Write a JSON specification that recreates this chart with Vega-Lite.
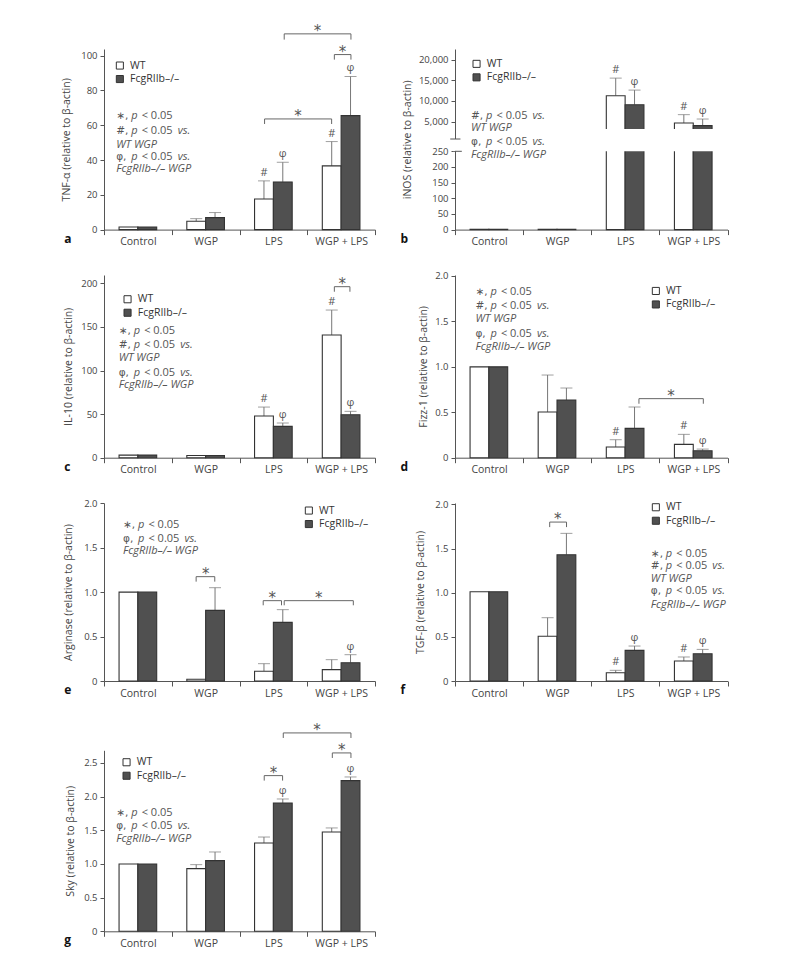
{
"$schema": "https://vega.github.io/schema/vega-lite/v6.json",
"background": "white",
"padding": {"left": 61, "top": 23, "right": 10, "bottom": 10},
"config": {
 "view": {"stroke": null},
 "font": "Open Sans",
 "axis": {"grid": false, "domainColor": "#555555", "tickColor": "#555555", "labelColor": "#444444", "titleColor": "#444444", "labelFont": "Open Sans", "titleFont": "Open Sans", "titleFontWeight": "normal"},
 "axisX": {"tickSize": 5, "tickBand": "extent", "labelFontSize": 10.5, "labelPadding": 2, "labelAngle": 0},
 "axisY": {"tickSize": 4, "labelPadding": 3, "labelFontSize": 9.5, "titleFontSize": 10.5, "labelOverlap": false},
 "legend": {"orient": "none", "symbolType": "square", "symbolSize": 50, "symbolStrokeColor": "#333333", "symbolStrokeWidth": 1, "labelFont": "Open Sans", "labelFontSize": 10.5, "labelColor": "#333333", "labelOffset": 5, "rowPadding": 1.5, "padding": 0}
},
"datasets": {
 "bars": [
  {"panel":"a","group":"Control","geno":"WT","value":1.5,"upper":null,"sig":""},
  {"panel":"a","group":"Control","geno":"FcgRIIb–/–","value":1.5,"upper":null,"sig":""},
  {"panel":"a","group":"WGP","geno":"WT","value":4.8,"upper":6.3,"sig":""},
  {"panel":"a","group":"WGP","geno":"FcgRIIb–/–","value":6.9,"upper":9.8,"sig":""},
  {"panel":"a","group":"LPS","geno":"WT","value":17.6,"upper":28.0,"sig":"#"},
  {"panel":"a","group":"LPS","geno":"FcgRIIb–/–","value":27.4,"upper":38.7,"sig":"φ"},
  {"panel":"a","group":"WGP + LPS","geno":"WT","value":36.6,"upper":50.6,"sig":"#"},
  {"panel":"a","group":"WGP + LPS","geno":"FcgRIIb–/–","value":65.5,"upper":88.0,"sig":"φ"},
  {"panel":"b","group":"Control","geno":"WT","value":1,"upper":null,"sig":""},
  {"panel":"b","group":"Control","geno":"FcgRIIb–/–","value":1,"upper":null,"sig":""},
  {"panel":"b","group":"WGP","geno":"WT","value":1,"upper":null,"sig":""},
  {"panel":"b","group":"WGP","geno":"FcgRIIb–/–","value":1,"upper":null,"sig":""},
  {"panel":"b","group":"LPS","geno":"WT","value":11280,"upper":15530,"sig":"#"},
  {"panel":"b","group":"LPS","geno":"FcgRIIb–/–","value":9100,"upper":12630,"sig":"φ"},
  {"panel":"b","group":"WGP + LPS","geno":"WT","value":4660,"upper":6690,"sig":"#"},
  {"panel":"b","group":"WGP + LPS","geno":"FcgRIIb–/–","value":4030,"upper":5630,"sig":"φ"},
  {"panel":"c","group":"Control","geno":"WT","value":3,"upper":null,"sig":""},
  {"panel":"c","group":"Control","geno":"FcgRIIb–/–","value":3,"upper":null,"sig":""},
  {"panel":"c","group":"WGP","geno":"WT","value":2.5,"upper":null,"sig":""},
  {"panel":"c","group":"WGP","geno":"FcgRIIb–/–","value":2.5,"upper":null,"sig":""},
  {"panel":"c","group":"LPS","geno":"WT","value":47.8,"upper":58.1,"sig":"#"},
  {"panel":"c","group":"LPS","geno":"FcgRIIb–/–","value":35.9,"upper":39.8,"sig":"φ"},
  {"panel":"c","group":"WGP + LPS","geno":"WT","value":140.7,"upper":169.4,"sig":"#"},
  {"panel":"c","group":"WGP + LPS","geno":"FcgRIIb–/–","value":49.3,"upper":53.2,"sig":"φ"},
  {"panel":"d","group":"Control","geno":"WT","value":1.0,"upper":null,"sig":""},
  {"panel":"d","group":"Control","geno":"FcgRIIb–/–","value":1.0,"upper":null,"sig":""},
  {"panel":"d","group":"WGP","geno":"WT","value":0.503,"upper":0.91,"sig":""},
  {"panel":"d","group":"WGP","geno":"FcgRIIb–/–","value":0.635,"upper":0.767,"sig":""},
  {"panel":"d","group":"LPS","geno":"WT","value":0.117,"upper":0.198,"sig":"#"},
  {"panel":"d","group":"LPS","geno":"FcgRIIb–/–","value":0.323,"upper":0.558,"sig":""},
  {"panel":"d","group":"WGP + LPS","geno":"WT","value":0.147,"upper":0.257,"sig":"#"},
  {"panel":"d","group":"WGP + LPS","geno":"FcgRIIb–/–","value":0.077,"upper":0.095,"sig":"φ"},
  {"panel":"e","group":"Control","geno":"WT","value":1.0,"upper":null,"sig":""},
  {"panel":"e","group":"Control","geno":"FcgRIIb–/–","value":1.0,"upper":null,"sig":""},
  {"panel":"e","group":"WGP","geno":"WT","value":0.019,"upper":null,"sig":""},
  {"panel":"e","group":"WGP","geno":"FcgRIIb–/–","value":0.795,"upper":1.05,"sig":""},
  {"panel":"e","group":"LPS","geno":"WT","value":0.109,"upper":0.195,"sig":""},
  {"panel":"e","group":"LPS","geno":"FcgRIIb–/–","value":0.66,"upper":0.803,"sig":""},
  {"panel":"e","group":"WGP + LPS","geno":"WT","value":0.128,"upper":0.24,"sig":""},
  {"panel":"e","group":"WGP + LPS","geno":"FcgRIIb–/–","value":0.206,"upper":0.296,"sig":"φ"},
  {"panel":"f","group":"Control","geno":"WT","value":1.01,"upper":null,"sig":""},
  {"panel":"f","group":"Control","geno":"FcgRIIb–/–","value":1.01,"upper":null,"sig":""},
  {"panel":"f","group":"WGP","geno":"WT","value":0.506,"upper":0.717,"sig":""},
  {"panel":"f","group":"WGP","geno":"FcgRIIb–/–","value":1.43,"upper":1.672,"sig":""},
  {"panel":"f","group":"LPS","geno":"WT","value":0.094,"upper":0.121,"sig":"#"},
  {"panel":"f","group":"LPS","geno":"FcgRIIb–/–","value":0.347,"upper":0.396,"sig":"φ"},
  {"panel":"f","group":"WGP + LPS","geno":"WT","value":0.226,"upper":0.272,"sig":"#"},
  {"panel":"f","group":"WGP + LPS","geno":"FcgRIIb–/–","value":0.309,"upper":0.358,"sig":"φ"},
  {"panel":"g","group":"Control","geno":"WT","value":1.0,"upper":null,"sig":""},
  {"panel":"g","group":"Control","geno":"FcgRIIb–/–","value":1.0,"upper":null,"sig":""},
  {"panel":"g","group":"WGP","geno":"WT","value":0.931,"upper":0.99,"sig":""},
  {"panel":"g","group":"WGP","geno":"FcgRIIb–/–","value":1.05,"upper":1.178,"sig":""},
  {"panel":"g","group":"LPS","geno":"WT","value":1.312,"upper":1.40,"sig":""},
  {"panel":"g","group":"LPS","geno":"FcgRIIb–/–","value":1.906,"upper":1.965,"sig":"φ"},
  {"panel":"g","group":"WGP + LPS","geno":"WT","value":1.475,"upper":1.535,"sig":""},
  {"panel":"g","group":"WGP + LPS","geno":"FcgRIIb–/–","value":2.238,"upper":2.292,"sig":"φ"}
 ],
 "brackets": [
  {"panel":"a","x1":2.37,"x2":3.36,"xm":2.865,"y":63.6,"y0":60.7},
  {"panel":"a","x1":2.66,"x2":3.645,"xm":3.15,"y":112.5,"y0":109.2},
  {"panel":"a","x1":3.40,"x2":3.645,"xm":3.52,"y":100.6,"y0":97.7},
  {"panel":"c","x1":3.40,"x2":3.63,"xm":3.515,"y":196.2,"y0":190.4},
  {"panel":"d","x1":2.70,"x2":3.645,"xm":3.17,"y":0.65,"y0":0.594},
  {"panel":"e","x1":1.36,"x2":1.635,"xm":1.5,"y":1.174,"y0":1.118},
  {"panel":"e","x1":2.35,"x2":2.62,"xm":2.485,"y":0.904,"y0":0.852},
  {"panel":"e","x1":2.66,"x2":3.68,"xm":3.17,"y":0.904,"y0":0.852},
  {"panel":"f","x1":1.39,"x2":1.637,"xm":1.51,"y":1.80,"y0":1.743},
  {"panel":"g","x1":2.365,"x2":2.636,"xm":2.5,"y":2.312,"y0":2.238},
  {"panel":"g","x1":3.37,"x2":3.645,"xm":3.51,"y":2.649,"y0":2.574},
  {"panel":"g","x1":2.646,"x2":3.645,"xm":3.145,"y":2.946,"y0":2.871}
 ],
 "notes": [
  {"panel":"a","x":0.18,"y":65.1,"pre":"∗,"},
  {"panel":"a","x":0.18,"y":56.5,"pre":"#,","vs":true},
  {"panel":"a","x":0.18,"y":48.6,"full":"WT WGP"},
  {"panel":"a","x":0.18,"y":41.7,"pre":"φ,","vs":true},
  {"panel":"a","x":0.18,"y":34.7,"full":"FcgRIIb–/– WGP"},
  {"panel":"b","x":0.235,"y":6291,"pre":"#,","vs":true},
  {"panel":"b","x":0.235,"y":3460,"full":"WT WGP"},
  {"panel":"b","x":0.235,"y":651,"pre":"φ,","vs":true},
  {"panel":"b","x":0.235,"y":239.5,"full":"FcgRIIb–/– WGP"},
  {"panel":"c","x":0.216,"y":145.4,"pre":"∗,"},
  {"panel":"c","x":0.216,"y":129.3,"pre":"#,","vs":true},
  {"panel":"c","x":0.216,"y":114.7,"full":"WT WGP"},
  {"panel":"c","x":0.216,"y":97.5,"pre":"φ,","vs":true},
  {"panel":"c","x":0.216,"y":83.4,"full":"FcgRIIb–/– WGP"},
  {"panel":"d","x":0.30,"y":1.827,"pre":"∗,"},
  {"panel":"d","x":0.30,"y":1.670,"pre":"#,","vs":true},
  {"panel":"d","x":0.30,"y":1.522,"full":"WT WGP"},
  {"panel":"d","x":0.30,"y":1.365,"pre":"φ,","vs":true},
  {"panel":"d","x":0.30,"y":1.222,"full":"FcgRIIb–/– WGP"},
  {"panel":"e","x":0.28,"y":1.759,"pre":"∗,"},
  {"panel":"e","x":0.28,"y":1.602,"pre":"φ,","vs":true},
  {"panel":"e","x":0.28,"y":1.460,"full":"FcgRIIb–/– WGP"},
  {"panel":"f","x":2.875,"y":1.438,"pre":"∗,"},
  {"panel":"f","x":2.875,"y":1.299,"pre":"#,","vs":true},
  {"panel":"f","x":2.875,"y":1.159,"full":"WT WGP"},
  {"panel":"f","x":2.875,"y":1.016,"pre":"φ,","vs":true},
  {"panel":"f","x":2.875,"y":0.864,"full":"FcgRIIb–/– WGP"},
  {"panel":"g","x":0.18,"y":1.757,"pre":"∗,"},
  {"panel":"g","x":0.18,"y":1.568,"pre":"φ,","vs":true},
  {"panel":"g","x":0.18,"y":1.375,"full":"FcgRIIb–/– WGP"}
 ],
 "letters": [{"panel":"a"},{"panel":"b"},{"panel":"c"},{"panel":"d"},{"panel":"e"},{"panel":"f"},{"panel":"g"}],
 "breaks": [{"panel":"b","lo":250,"hi":3218,"alo":256,"ahi":798}]
},
"columns": 2,
"spacing": {"row": 45, "column": 80},
"bounds": "flush",
"resolve": {"scale": {"fill": "independent"}, "legend": {"fill": "independent"}},
"concat": [
 {
  "width": 271, "height": 180.6,
  "resolve": {"scale": {"x": "independent"}},
  "layer": [
   {
    "data": {"name": "bars"},
    "transform": [{"filter": "datum.panel == 'a'"}],
    "encoding": {
     "x": {"field": "group", "type": "nominal", "title": null, "scale": {"domain": ["Control", "WGP", "LPS", "WGP + LPS"], "paddingInner": 0, "paddingOuter": 0}},
     "xOffset": {"field": "geno", "type": "nominal", "scale": {"domain": ["WT", "FcgRIIb–/–"], "paddingInner": 0, "paddingOuter": 0.8}},
     "y": {"field": "value", "type": "quantitative", "title": "TNF-α (relative to β-actin)", "scale": {"domain": [0, 103.8], "nice": false}, "axis": {"values": [0, 20, 40, 60, 80, 100], "tickCount": 30, "labelOverlap": false, "minExtent": 22, "maxExtent": 22, "titlePadding": 11}}
    },
    "layer": [
     {"transform": [{"filter": "isValid(datum.upper)"}], "mark": {"type": "rule", "color": "#777777"}, "encoding": {"y2": {"field": "upper"}}},
     {"mark": {"type": "bar", "stroke": "#333333", "strokeWidth": 1.1}, "encoding": {"fill": {"field": "geno", "type": "nominal", "title": null, "scale": {"domain": ["WT", "FcgRIIb–/–"], "range": ["#ffffff", "#505050"]}, "legend": {"legendX": 10.6, "legendY": 11.3}}}},
     {"transform": [{"filter": "isValid(datum.upper)"}], "mark": {"type": "tick", "orient": "horizontal", "color": "#777777", "size": 12, "thickness": 1}, "encoding": {"y": {"field": "upper", "type": "quantitative"}}},
     {"transform": [{"filter": "isValid(datum.upper)"}], "mark": {"type": "text", "baseline": "middle", "dy": -8, "font": "Open Sans", "fontSize": 11, "color": "#555555"}, "encoding": {"y": {"field": "upper", "type": "quantitative"}, "text": {"field": "sig"}}}
    ]
   },
   {
    "layer": [
     {"data": {"name": "brackets"}, "transform": [{"filter": "datum.panel == 'a'"}], "mark": {"type": "rule", "color": "#666666"}, "encoding": {"x": {"field": "x1", "type": "quantitative", "scale": {"domain": [0, 4], "nice": false, "zero": false}, "axis": null}, "x2": {"field": "x2"}, "y": {"field": "y", "type": "quantitative"}}},
     {"data": {"name": "brackets"}, "transform": [{"filter": "datum.panel == 'a'"}], "mark": {"type": "rule", "color": "#666666"}, "encoding": {"x": {"field": "x1", "type": "quantitative", "scale": {"domain": [0, 4], "nice": false, "zero": false}, "axis": null}, "y": {"field": "y", "type": "quantitative"}, "y2": {"field": "y0"}}},
     {"data": {"name": "brackets"}, "transform": [{"filter": "datum.panel == 'a'"}], "mark": {"type": "rule", "color": "#666666"}, "encoding": {"x": {"field": "x2", "type": "quantitative", "scale": {"domain": [0, 4], "nice": false, "zero": false}, "axis": null}, "y": {"field": "y", "type": "quantitative"}, "y2": {"field": "y0"}}},
     {"data": {"name": "brackets"}, "transform": [{"filter": "datum.panel == 'a'"}], "mark": {"type": "text", "baseline": "middle", "dy": -3, "font": "DejaVu Sans", "fontSize": 15, "color": "#555555"}, "encoding": {"x": {"field": "xm", "type": "quantitative", "scale": {"domain": [0, 4], "nice": false, "zero": false}, "axis": null}, "y": {"field": "y", "type": "quantitative"}, "text": {"value": "*"}}},
     {"data": {"name": "notes"}, "transform": [{"filter": "datum.panel == 'a' && isValid(datum.pre)"}], "mark": {"type": "text", "align": "left", "baseline": "middle", "font": "DejaVu Sans", "fontSize": 10.5, "color": "#555555"}, "encoding": {"x": {"field": "x", "type": "quantitative", "scale": {"domain": [0, 4], "nice": false, "zero": false}, "axis": null}, "y": {"field": "y", "type": "quantitative"}, "text": {"field": "pre"}}},
     {"data": {"name": "notes"}, "transform": [{"filter": "datum.panel == 'a' && isValid(datum.pre)"}], "mark": {"type": "text", "align": "left", "baseline": "middle", "fontSize": 11, "fontStyle": "italic", "dx": 15, "color": "#555555"}, "encoding": {"x": {"field": "x", "type": "quantitative", "scale": {"domain": [0, 4], "nice": false, "zero": false}, "axis": null}, "y": {"field": "y", "type": "quantitative"}, "text": {"value": "p"}}},
     {"data": {"name": "notes"}, "transform": [{"filter": "datum.panel == 'a' && isValid(datum.pre)"}], "mark": {"type": "text", "align": "left", "baseline": "middle", "fontSize": 11, "dx": 25.5, "color": "#555555"}, "encoding": {"x": {"field": "x", "type": "quantitative", "scale": {"domain": [0, 4], "nice": false, "zero": false}, "axis": null}, "y": {"field": "y", "type": "quantitative"}, "text": {"value": "< 0.05"}}},
     {"data": {"name": "notes"}, "transform": [{"filter": "datum.panel == 'a' && datum.vs"}], "mark": {"type": "text", "align": "left", "baseline": "middle", "fontSize": 11, "fontStyle": "italic", "dx": 61.5, "color": "#555555"}, "encoding": {"x": {"field": "x", "type": "quantitative", "scale": {"domain": [0, 4], "nice": false, "zero": false}, "axis": null}, "y": {"field": "y", "type": "quantitative"}, "text": {"value": "vs."}}},
     {"data": {"name": "notes"}, "transform": [{"filter": "datum.panel == 'a' && isValid(datum.full)"}], "mark": {"type": "text", "align": "left", "baseline": "middle", "fontSize": 11, "fontStyle": "italic", "color": "#555555"}, "encoding": {"x": {"field": "x", "type": "quantitative", "scale": {"domain": [0, 4], "nice": false, "zero": false}, "axis": null}, "y": {"field": "y", "type": "quantitative"}, "text": {"field": "full"}}},
     {"data": {"name": "letters"}, "transform": [{"filter": "datum.panel == 'a'"}], "mark": {"type": "text", "align": "left", "baseline": "alphabetic", "dy": 13, "fontSize": 12, "fontWeight": "bold", "color": "#111111"}, "encoding": {"x": {"datum": -0.587, "type": "quantitative", "scale": {"domain": [0, 4], "nice": false, "zero": false}, "axis": null}, "y": {"datum": 0, "type": "quantitative"}, "text": {"field": "panel"}}}
    ]
   }
  ]
 },
 {
  "width": 272.5, "height": 180.6,
  "resolve": {"scale": {"x": "independent"}},
  "layer": [
   {
    "data": {"name": "bars"},
    "transform": [{"filter": "datum.panel == 'b'"}],
    "encoding": {
     "x": {"field": "group", "type": "nominal", "title": null, "scale": {"domain": ["Control", "WGP", "LPS", "WGP + LPS"], "paddingInner": 0, "paddingOuter": 0}},
     "xOffset": {"field": "geno", "type": "nominal", "scale": {"domain": ["WT", "FcgRIIb–/–"], "paddingInner": 0, "paddingOuter": 0.8}},
     "y": {"field": "value", "type": "quantitative", "title": "iNOS (relative to β-actin)", "scale": {"domain": [0, 250, 798, 22574], "range": [180.6, 102.3, 90, 0], "nice": false, "zero": false}, "axis": {"values": [0, 50, 100, 150, 200, 250, 5000, 10000, 15000, 20000], "tickCount": 30, "format": ",.0f", "labelOverlap": false, "minExtent": 22, "maxExtent": 22, "titlePadding": 21}}
    },
    "layer": [
     {"transform": [{"filter": "isValid(datum.upper)"}], "mark": {"type": "rule", "color": "#777777"}, "encoding": {"y2": {"field": "upper"}}},
     {"mark": {"type": "bar", "stroke": "#333333", "strokeWidth": 1.1}, "encoding": {"fill": {"field": "geno", "type": "nominal", "title": null, "scale": {"domain": ["WT", "FcgRIIb–/–"], "range": ["#ffffff", "#505050"]}, "legend": {"legendX": 16.3, "legendY": 9.6}}}},
     {"transform": [{"filter": "isValid(datum.upper)"}], "mark": {"type": "tick", "orient": "horizontal", "color": "#777777", "size": 12, "thickness": 1}, "encoding": {"y": {"field": "upper", "type": "quantitative"}}},
     {"transform": [{"filter": "isValid(datum.upper)"}], "mark": {"type": "text", "baseline": "middle", "dy": -8, "font": "Open Sans", "fontSize": 11, "color": "#555555"}, "encoding": {"y": {"field": "upper", "type": "quantitative"}, "text": {"field": "sig"}}}
    ]
   },
   {
    "layer": [
     {"data": {"name": "breaks"}, "transform": [{"filter": "datum.panel == 'b'"}], "mark": {"type": "rect", "fill": "white"}, "encoding": {"x": {"datum": 0.04, "type": "quantitative", "scale": {"domain": [0, 4], "nice": false, "zero": false}, "axis": null}, "x2": {"datum": 4}, "y": {"field": "lo", "type": "quantitative"}, "y2": {"field": "hi"}}},
     {"data": {"name": "breaks"}, "transform": [{"filter": "datum.panel == 'b'"}], "mark": {"type": "rect", "fill": "white"}, "encoding": {"x": {"datum": -0.03, "type": "quantitative", "scale": {"domain": [0, 4], "nice": false, "zero": false}, "axis": null}, "x2": {"datum": 0.03}, "y": {"field": "alo", "type": "quantitative"}, "y2": {"field": "ahi"}}},
     {"data": {"name": "breaks"}, "transform": [{"filter": "datum.panel == 'b'"}], "mark": {"type": "rule", "color": "#555555"}, "encoding": {"x": {"datum": -0.07, "type": "quantitative", "scale": {"domain": [0, 4], "nice": false, "zero": false}, "axis": null}, "x2": {"datum": 0.08}, "y": {"field": "ahi", "type": "quantitative"}}},
     {"data": {"name": "breaks"}, "transform": [{"filter": "datum.panel == 'b'"}], "mark": {"type": "rule", "color": "#555555"}, "encoding": {"x": {"datum": 0, "type": "quantitative", "scale": {"domain": [0, 4], "nice": false, "zero": false}, "axis": null}, "x2": {"datum": 0.1}, "y": {"field": "lo", "type": "quantitative"}}},
     {"data": {"name": "notes"}, "transform": [{"filter": "datum.panel == 'b' && isValid(datum.pre)"}], "mark": {"type": "text", "align": "left", "baseline": "middle", "font": "DejaVu Sans", "fontSize": 10.5, "color": "#555555"}, "encoding": {"x": {"field": "x", "type": "quantitative", "scale": {"domain": [0, 4], "nice": false, "zero": false}, "axis": null}, "y": {"field": "y", "type": "quantitative"}, "text": {"field": "pre"}}},
     {"data": {"name": "notes"}, "transform": [{"filter": "datum.panel == 'b' && isValid(datum.pre)"}], "mark": {"type": "text", "align": "left", "baseline": "middle", "fontSize": 11, "fontStyle": "italic", "dx": 15, "color": "#555555"}, "encoding": {"x": {"field": "x", "type": "quantitative", "scale": {"domain": [0, 4], "nice": false, "zero": false}, "axis": null}, "y": {"field": "y", "type": "quantitative"}, "text": {"value": "p"}}},
     {"data": {"name": "notes"}, "transform": [{"filter": "datum.panel == 'b' && isValid(datum.pre)"}], "mark": {"type": "text", "align": "left", "baseline": "middle", "fontSize": 11, "dx": 25.5, "color": "#555555"}, "encoding": {"x": {"field": "x", "type": "quantitative", "scale": {"domain": [0, 4], "nice": false, "zero": false}, "axis": null}, "y": {"field": "y", "type": "quantitative"}, "text": {"value": "< 0.05"}}},
     {"data": {"name": "notes"}, "transform": [{"filter": "datum.panel == 'b' && datum.vs"}], "mark": {"type": "text", "align": "left", "baseline": "middle", "fontSize": 11, "fontStyle": "italic", "dx": 61.5, "color": "#555555"}, "encoding": {"x": {"field": "x", "type": "quantitative", "scale": {"domain": [0, 4], "nice": false, "zero": false}, "axis": null}, "y": {"field": "y", "type": "quantitative"}, "text": {"value": "vs."}}},
     {"data": {"name": "notes"}, "transform": [{"filter": "datum.panel == 'b' && isValid(datum.full)"}], "mark": {"type": "text", "align": "left", "baseline": "middle", "fontSize": 11, "fontStyle": "italic", "color": "#555555"}, "encoding": {"x": {"field": "x", "type": "quantitative", "scale": {"domain": [0, 4], "nice": false, "zero": false}, "axis": null}, "y": {"field": "y", "type": "quantitative"}, "text": {"field": "full"}}},
     {"data": {"name": "letters"}, "transform": [{"filter": "datum.panel == 'b'"}], "mark": {"type": "text", "align": "left", "baseline": "alphabetic", "dy": 13, "fontSize": 12, "fontWeight": "bold", "color": "#111111"}, "encoding": {"x": {"datum": -0.8, "type": "quantitative", "scale": {"domain": [0, 4], "nice": false, "zero": false}, "axis": null}, "y": {"datum": 0, "type": "quantitative"}, "text": {"field": "panel"}}}
    ]
   }
  ]
 },
 {
  "width": 271, "height": 182.7,
  "resolve": {"scale": {"x": "independent"}},
  "layer": [
   {
    "data": {"name": "bars"},
    "transform": [{"filter": "datum.panel == 'c'"}],
    "encoding": {
     "x": {"field": "group", "type": "nominal", "title": null, "scale": {"domain": ["Control", "WGP", "LPS", "WGP + LPS"], "paddingInner": 0, "paddingOuter": 0}},
     "xOffset": {"field": "geno", "type": "nominal", "scale": {"domain": ["WT", "FcgRIIb–/–"], "paddingInner": 0, "paddingOuter": 0.8}},
     "y": {"field": "value", "type": "quantitative", "title": "IL-10 (relative to β-actin)", "scale": {"domain": [0, 209.6], "nice": false}, "axis": {"values": [0, 50, 100, 150, 200], "tickCount": 30, "labelOverlap": false, "minExtent": 22, "maxExtent": 22, "titlePadding": 9}}
    },
    "layer": [
     {"transform": [{"filter": "isValid(datum.upper)"}], "mark": {"type": "rule", "color": "#777777"}, "encoding": {"y2": {"field": "upper"}}},
     {"mark": {"type": "bar", "stroke": "#333333", "strokeWidth": 1.1}, "encoding": {"fill": {"field": "geno", "type": "nominal", "title": null, "scale": {"domain": ["WT", "FcgRIIb–/–"], "range": ["#ffffff", "#505050"]}, "legend": {"legendX": 18.3, "legendY": 19}}}},
     {"transform": [{"filter": "isValid(datum.upper)"}], "mark": {"type": "tick", "orient": "horizontal", "color": "#777777", "size": 12, "thickness": 1}, "encoding": {"y": {"field": "upper", "type": "quantitative"}}},
     {"transform": [{"filter": "isValid(datum.upper)"}], "mark": {"type": "text", "baseline": "middle", "dy": -8, "font": "Open Sans", "fontSize": 11, "color": "#555555"}, "encoding": {"y": {"field": "upper", "type": "quantitative"}, "text": {"field": "sig"}}}
    ]
   },
   {
    "layer": [
     {"data": {"name": "brackets"}, "transform": [{"filter": "datum.panel == 'c'"}], "mark": {"type": "rule", "color": "#666666"}, "encoding": {"x": {"field": "x1", "type": "quantitative", "scale": {"domain": [0, 4], "nice": false, "zero": false}, "axis": null}, "x2": {"field": "x2"}, "y": {"field": "y", "type": "quantitative"}}},
     {"data": {"name": "brackets"}, "transform": [{"filter": "datum.panel == 'c'"}], "mark": {"type": "rule", "color": "#666666"}, "encoding": {"x": {"field": "x1", "type": "quantitative", "scale": {"domain": [0, 4], "nice": false, "zero": false}, "axis": null}, "y": {"field": "y", "type": "quantitative"}, "y2": {"field": "y0"}}},
     {"data": {"name": "brackets"}, "transform": [{"filter": "datum.panel == 'c'"}], "mark": {"type": "rule", "color": "#666666"}, "encoding": {"x": {"field": "x2", "type": "quantitative", "scale": {"domain": [0, 4], "nice": false, "zero": false}, "axis": null}, "y": {"field": "y", "type": "quantitative"}, "y2": {"field": "y0"}}},
     {"data": {"name": "brackets"}, "transform": [{"filter": "datum.panel == 'c'"}], "mark": {"type": "text", "baseline": "middle", "dy": -3, "font": "DejaVu Sans", "fontSize": 15, "color": "#555555"}, "encoding": {"x": {"field": "xm", "type": "quantitative", "scale": {"domain": [0, 4], "nice": false, "zero": false}, "axis": null}, "y": {"field": "y", "type": "quantitative"}, "text": {"value": "*"}}},
     {"data": {"name": "notes"}, "transform": [{"filter": "datum.panel == 'c' && isValid(datum.pre)"}], "mark": {"type": "text", "align": "left", "baseline": "middle", "font": "DejaVu Sans", "fontSize": 10.5, "color": "#555555"}, "encoding": {"x": {"field": "x", "type": "quantitative", "scale": {"domain": [0, 4], "nice": false, "zero": false}, "axis": null}, "y": {"field": "y", "type": "quantitative"}, "text": {"field": "pre"}}},
     {"data": {"name": "notes"}, "transform": [{"filter": "datum.panel == 'c' && isValid(datum.pre)"}], "mark": {"type": "text", "align": "left", "baseline": "middle", "fontSize": 11, "fontStyle": "italic", "dx": 15, "color": "#555555"}, "encoding": {"x": {"field": "x", "type": "quantitative", "scale": {"domain": [0, 4], "nice": false, "zero": false}, "axis": null}, "y": {"field": "y", "type": "quantitative"}, "text": {"value": "p"}}},
     {"data": {"name": "notes"}, "transform": [{"filter": "datum.panel == 'c' && isValid(datum.pre)"}], "mark": {"type": "text", "align": "left", "baseline": "middle", "fontSize": 11, "dx": 25.5, "color": "#555555"}, "encoding": {"x": {"field": "x", "type": "quantitative", "scale": {"domain": [0, 4], "nice": false, "zero": false}, "axis": null}, "y": {"field": "y", "type": "quantitative"}, "text": {"value": "< 0.05"}}},
     {"data": {"name": "notes"}, "transform": [{"filter": "datum.panel == 'c' && datum.vs"}], "mark": {"type": "text", "align": "left", "baseline": "middle", "fontSize": 11, "fontStyle": "italic", "dx": 61.5, "color": "#555555"}, "encoding": {"x": {"field": "x", "type": "quantitative", "scale": {"domain": [0, 4], "nice": false, "zero": false}, "axis": null}, "y": {"field": "y", "type": "quantitative"}, "text": {"value": "vs."}}},
     {"data": {"name": "notes"}, "transform": [{"filter": "datum.panel == 'c' && isValid(datum.full)"}], "mark": {"type": "text", "align": "left", "baseline": "middle", "fontSize": 11, "fontStyle": "italic", "color": "#555555"}, "encoding": {"x": {"field": "x", "type": "quantitative", "scale": {"domain": [0, 4], "nice": false, "zero": false}, "axis": null}, "y": {"field": "y", "type": "quantitative"}, "text": {"field": "full"}}},
     {"data": {"name": "letters"}, "transform": [{"filter": "datum.panel == 'c'"}], "mark": {"type": "text", "align": "left", "baseline": "alphabetic", "dy": 13, "fontSize": 12, "fontWeight": "bold", "color": "#111111"}, "encoding": {"x": {"datum": -0.587, "type": "quantitative", "scale": {"domain": [0, 4], "nice": false, "zero": false}, "axis": null}, "y": {"datum": 0, "type": "quantitative"}, "text": {"field": "panel"}}}
    ]
   }
  ]
 },
 {
  "width": 272.5, "height": 182.7,
  "resolve": {"scale": {"x": "independent"}},
  "layer": [
   {
    "data": {"name": "bars"},
    "transform": [{"filter": "datum.panel == 'd'"}],
    "encoding": {
     "x": {"field": "group", "type": "nominal", "title": null, "scale": {"domain": ["Control", "WGP", "LPS", "WGP + LPS"], "paddingInner": 0, "paddingOuter": 0}},
     "xOffset": {"field": "geno", "type": "nominal", "scale": {"domain": ["WT", "FcgRIIb–/–"], "paddingInner": 0, "paddingOuter": 0.8}},
     "y": {"field": "value", "type": "quantitative", "title": "Fizz-1 (relative to β-actin)", "scale": {"domain": [0, 2.011], "nice": false}, "axis": {"values": [0, 0.5, 1, 1.5, 2], "tickCount": 30, "labelOverlap": false, "labelExpr": "datum.value == 0 ? '0' : format(datum.value, '.1f')", "minExtent": 22, "maxExtent": 22, "titlePadding": 5}}
    },
    "layer": [
     {"transform": [{"filter": "isValid(datum.upper)"}], "mark": {"type": "rule", "color": "#777777"}, "encoding": {"y2": {"field": "upper"}}},
     {"mark": {"type": "bar", "stroke": "#333333", "strokeWidth": 1.1}, "encoding": {"fill": {"field": "geno", "type": "nominal", "title": null, "scale": {"domain": ["WT", "FcgRIIb–/–"], "range": ["#ffffff", "#505050"]}, "legend": {"legendX": 195.6, "legendY": 10.7}}}},
     {"transform": [{"filter": "isValid(datum.upper)"}], "mark": {"type": "tick", "orient": "horizontal", "color": "#777777", "size": 12, "thickness": 1}, "encoding": {"y": {"field": "upper", "type": "quantitative"}}},
     {"transform": [{"filter": "isValid(datum.upper)"}], "mark": {"type": "text", "baseline": "middle", "dy": -8, "font": "Open Sans", "fontSize": 11, "color": "#555555"}, "encoding": {"y": {"field": "upper", "type": "quantitative"}, "text": {"field": "sig"}}}
    ]
   },
   {
    "layer": [
     {"data": {"name": "brackets"}, "transform": [{"filter": "datum.panel == 'd'"}], "mark": {"type": "rule", "color": "#666666"}, "encoding": {"x": {"field": "x1", "type": "quantitative", "scale": {"domain": [0, 4], "nice": false, "zero": false}, "axis": null}, "x2": {"field": "x2"}, "y": {"field": "y", "type": "quantitative"}}},
     {"data": {"name": "brackets"}, "transform": [{"filter": "datum.panel == 'd'"}], "mark": {"type": "rule", "color": "#666666"}, "encoding": {"x": {"field": "x1", "type": "quantitative", "scale": {"domain": [0, 4], "nice": false, "zero": false}, "axis": null}, "y": {"field": "y", "type": "quantitative"}, "y2": {"field": "y0"}}},
     {"data": {"name": "brackets"}, "transform": [{"filter": "datum.panel == 'd'"}], "mark": {"type": "rule", "color": "#666666"}, "encoding": {"x": {"field": "x2", "type": "quantitative", "scale": {"domain": [0, 4], "nice": false, "zero": false}, "axis": null}, "y": {"field": "y", "type": "quantitative"}, "y2": {"field": "y0"}}},
     {"data": {"name": "brackets"}, "transform": [{"filter": "datum.panel == 'd'"}], "mark": {"type": "text", "baseline": "middle", "dy": -3, "font": "DejaVu Sans", "fontSize": 15, "color": "#555555"}, "encoding": {"x": {"field": "xm", "type": "quantitative", "scale": {"domain": [0, 4], "nice": false, "zero": false}, "axis": null}, "y": {"field": "y", "type": "quantitative"}, "text": {"value": "*"}}},
     {"data": {"name": "notes"}, "transform": [{"filter": "datum.panel == 'd' && isValid(datum.pre)"}], "mark": {"type": "text", "align": "left", "baseline": "middle", "font": "DejaVu Sans", "fontSize": 10.5, "color": "#555555"}, "encoding": {"x": {"field": "x", "type": "quantitative", "scale": {"domain": [0, 4], "nice": false, "zero": false}, "axis": null}, "y": {"field": "y", "type": "quantitative"}, "text": {"field": "pre"}}},
     {"data": {"name": "notes"}, "transform": [{"filter": "datum.panel == 'd' && isValid(datum.pre)"}], "mark": {"type": "text", "align": "left", "baseline": "middle", "fontSize": 11, "fontStyle": "italic", "dx": 15, "color": "#555555"}, "encoding": {"x": {"field": "x", "type": "quantitative", "scale": {"domain": [0, 4], "nice": false, "zero": false}, "axis": null}, "y": {"field": "y", "type": "quantitative"}, "text": {"value": "p"}}},
     {"data": {"name": "notes"}, "transform": [{"filter": "datum.panel == 'd' && isValid(datum.pre)"}], "mark": {"type": "text", "align": "left", "baseline": "middle", "fontSize": 11, "dx": 25.5, "color": "#555555"}, "encoding": {"x": {"field": "x", "type": "quantitative", "scale": {"domain": [0, 4], "nice": false, "zero": false}, "axis": null}, "y": {"field": "y", "type": "quantitative"}, "text": {"value": "< 0.05"}}},
     {"data": {"name": "notes"}, "transform": [{"filter": "datum.panel == 'd' && datum.vs"}], "mark": {"type": "text", "align": "left", "baseline": "middle", "fontSize": 11, "fontStyle": "italic", "dx": 61.5, "color": "#555555"}, "encoding": {"x": {"field": "x", "type": "quantitative", "scale": {"domain": [0, 4], "nice": false, "zero": false}, "axis": null}, "y": {"field": "y", "type": "quantitative"}, "text": {"value": "vs."}}},
     {"data": {"name": "notes"}, "transform": [{"filter": "datum.panel == 'd' && isValid(datum.full)"}], "mark": {"type": "text", "align": "left", "baseline": "middle", "fontSize": 11, "fontStyle": "italic", "color": "#555555"}, "encoding": {"x": {"field": "x", "type": "quantitative", "scale": {"domain": [0, 4], "nice": false, "zero": false}, "axis": null}, "y": {"field": "y", "type": "quantitative"}, "text": {"field": "full"}}},
     {"data": {"name": "letters"}, "transform": [{"filter": "datum.panel == 'd'"}], "mark": {"type": "text", "align": "left", "baseline": "alphabetic", "dy": 13, "fontSize": 12, "fontWeight": "bold", "color": "#111111"}, "encoding": {"x": {"datum": -0.8, "type": "quantitative", "scale": {"domain": [0, 4], "nice": false, "zero": false}, "axis": null}, "y": {"datum": 0, "type": "quantitative"}, "text": {"field": "panel"}}}
    ]
   }
  ]
 },
 {
  "width": 271, "height": 178,
  "resolve": {"scale": {"x": "independent"}},
  "layer": [
   {
    "data": {"name": "bars"},
    "transform": [{"filter": "datum.panel == 'e'"}],
    "encoding": {
     "x": {"field": "group", "type": "nominal", "title": null, "scale": {"domain": ["Control", "WGP", "LPS", "WGP + LPS"], "paddingInner": 0, "paddingOuter": 0}},
     "xOffset": {"field": "geno", "type": "nominal", "scale": {"domain": ["WT", "FcgRIIb–/–"], "paddingInner": 0, "paddingOuter": 0.8}},
     "y": {"field": "value", "type": "quantitative", "title": "Arginase (relative to β-actin)", "scale": {"domain": [0, 2.003], "nice": false}, "axis": {"values": [0, 0.5, 1, 1.5, 2], "tickCount": 30, "labelOverlap": false, "labelExpr": "datum.value == 0 ? '0' : format(datum.value, '.1f')", "minExtent": 22, "maxExtent": 22, "titlePadding": 9}}
    },
    "layer": [
     {"transform": [{"filter": "isValid(datum.upper)"}], "mark": {"type": "rule", "color": "#777777"}, "encoding": {"y2": {"field": "upper"}}},
     {"mark": {"type": "bar", "stroke": "#333333", "strokeWidth": 1.1}, "encoding": {"fill": {"field": "geno", "type": "nominal", "title": null, "scale": {"domain": ["WT", "FcgRIIb–/–"], "range": ["#ffffff", "#505050"]}, "legend": {"legendX": 199.6, "legendY": 2.3}}}},
     {"transform": [{"filter": "isValid(datum.upper)"}], "mark": {"type": "tick", "orient": "horizontal", "color": "#777777", "size": 12, "thickness": 1}, "encoding": {"y": {"field": "upper", "type": "quantitative"}}},
     {"transform": [{"filter": "isValid(datum.upper)"}], "mark": {"type": "text", "baseline": "middle", "dy": -8, "font": "Open Sans", "fontSize": 11, "color": "#555555"}, "encoding": {"y": {"field": "upper", "type": "quantitative"}, "text": {"field": "sig"}}}
    ]
   },
   {
    "layer": [
     {"data": {"name": "brackets"}, "transform": [{"filter": "datum.panel == 'e'"}], "mark": {"type": "rule", "color": "#666666"}, "encoding": {"x": {"field": "x1", "type": "quantitative", "scale": {"domain": [0, 4], "nice": false, "zero": false}, "axis": null}, "x2": {"field": "x2"}, "y": {"field": "y", "type": "quantitative"}}},
     {"data": {"name": "brackets"}, "transform": [{"filter": "datum.panel == 'e'"}], "mark": {"type": "rule", "color": "#666666"}, "encoding": {"x": {"field": "x1", "type": "quantitative", "scale": {"domain": [0, 4], "nice": false, "zero": false}, "axis": null}, "y": {"field": "y", "type": "quantitative"}, "y2": {"field": "y0"}}},
     {"data": {"name": "brackets"}, "transform": [{"filter": "datum.panel == 'e'"}], "mark": {"type": "rule", "color": "#666666"}, "encoding": {"x": {"field": "x2", "type": "quantitative", "scale": {"domain": [0, 4], "nice": false, "zero": false}, "axis": null}, "y": {"field": "y", "type": "quantitative"}, "y2": {"field": "y0"}}},
     {"data": {"name": "brackets"}, "transform": [{"filter": "datum.panel == 'e'"}], "mark": {"type": "text", "baseline": "middle", "dy": -3, "font": "DejaVu Sans", "fontSize": 15, "color": "#555555"}, "encoding": {"x": {"field": "xm", "type": "quantitative", "scale": {"domain": [0, 4], "nice": false, "zero": false}, "axis": null}, "y": {"field": "y", "type": "quantitative"}, "text": {"value": "*"}}},
     {"data": {"name": "notes"}, "transform": [{"filter": "datum.panel == 'e' && isValid(datum.pre)"}], "mark": {"type": "text", "align": "left", "baseline": "middle", "font": "DejaVu Sans", "fontSize": 10.5, "color": "#555555"}, "encoding": {"x": {"field": "x", "type": "quantitative", "scale": {"domain": [0, 4], "nice": false, "zero": false}, "axis": null}, "y": {"field": "y", "type": "quantitative"}, "text": {"field": "pre"}}},
     {"data": {"name": "notes"}, "transform": [{"filter": "datum.panel == 'e' && isValid(datum.pre)"}], "mark": {"type": "text", "align": "left", "baseline": "middle", "fontSize": 11, "fontStyle": "italic", "dx": 15, "color": "#555555"}, "encoding": {"x": {"field": "x", "type": "quantitative", "scale": {"domain": [0, 4], "nice": false, "zero": false}, "axis": null}, "y": {"field": "y", "type": "quantitative"}, "text": {"value": "p"}}},
     {"data": {"name": "notes"}, "transform": [{"filter": "datum.panel == 'e' && isValid(datum.pre)"}], "mark": {"type": "text", "align": "left", "baseline": "middle", "fontSize": 11, "dx": 25.5, "color": "#555555"}, "encoding": {"x": {"field": "x", "type": "quantitative", "scale": {"domain": [0, 4], "nice": false, "zero": false}, "axis": null}, "y": {"field": "y", "type": "quantitative"}, "text": {"value": "< 0.05"}}},
     {"data": {"name": "notes"}, "transform": [{"filter": "datum.panel == 'e' && datum.vs"}], "mark": {"type": "text", "align": "left", "baseline": "middle", "fontSize": 11, "fontStyle": "italic", "dx": 61.5, "color": "#555555"}, "encoding": {"x": {"field": "x", "type": "quantitative", "scale": {"domain": [0, 4], "nice": false, "zero": false}, "axis": null}, "y": {"field": "y", "type": "quantitative"}, "text": {"value": "vs."}}},
     {"data": {"name": "notes"}, "transform": [{"filter": "datum.panel == 'e' && isValid(datum.full)"}], "mark": {"type": "text", "align": "left", "baseline": "middle", "fontSize": 11, "fontStyle": "italic", "color": "#555555"}, "encoding": {"x": {"field": "x", "type": "quantitative", "scale": {"domain": [0, 4], "nice": false, "zero": false}, "axis": null}, "y": {"field": "y", "type": "quantitative"}, "text": {"field": "full"}}},
     {"data": {"name": "letters"}, "transform": [{"filter": "datum.panel == 'e'"}], "mark": {"type": "text", "align": "left", "baseline": "alphabetic", "dy": 13, "fontSize": 12, "fontWeight": "bold", "color": "#111111"}, "encoding": {"x": {"datum": -0.587, "type": "quantitative", "scale": {"domain": [0, 4], "nice": false, "zero": false}, "axis": null}, "y": {"datum": 0, "type": "quantitative"}, "text": {"field": "panel"}}}
    ]
   }
  ]
 },
 {
  "width": 272.5, "height": 178,
  "resolve": {"scale": {"x": "independent"}},
  "layer": [
   {
    "data": {"name": "bars"},
    "transform": [{"filter": "datum.panel == 'f'"}],
    "encoding": {
     "x": {"field": "group", "type": "nominal", "title": null, "scale": {"domain": ["Control", "WGP", "LPS", "WGP + LPS"], "paddingInner": 0, "paddingOuter": 0}},
     "xOffset": {"field": "geno", "type": "nominal", "scale": {"domain": ["WT", "FcgRIIb–/–"], "paddingInner": 0, "paddingOuter": 0.8}},
     "y": {"field": "value", "type": "quantitative", "title": "TGF-β (relative to β-actin)", "scale": {"domain": [0, 2.016], "nice": false}, "axis": {"values": [0, 0.5, 1, 1.5, 2], "tickCount": 30, "labelOverlap": false, "labelExpr": "datum.value == 0 ? '0' : format(datum.value, '.1f')", "minExtent": 22, "maxExtent": 22, "titlePadding": 8}}
    },
    "layer": [
     {"transform": [{"filter": "isValid(datum.upper)"}], "mark": {"type": "rule", "color": "#777777"}, "encoding": {"y2": {"field": "upper"}}},
     {"mark": {"type": "bar", "stroke": "#333333", "strokeWidth": 1.1}, "encoding": {"fill": {"field": "geno", "type": "nominal", "title": null, "scale": {"domain": ["WT", "FcgRIIb–/–"], "range": ["#ffffff", "#505050"]}, "legend": {"legendX": 195.6, "legendY": -1}}}},
     {"transform": [{"filter": "isValid(datum.upper)"}], "mark": {"type": "tick", "orient": "horizontal", "color": "#777777", "size": 12, "thickness": 1}, "encoding": {"y": {"field": "upper", "type": "quantitative"}}},
     {"transform": [{"filter": "isValid(datum.upper)"}], "mark": {"type": "text", "baseline": "middle", "dy": -8, "font": "Open Sans", "fontSize": 11, "color": "#555555"}, "encoding": {"y": {"field": "upper", "type": "quantitative"}, "text": {"field": "sig"}}}
    ]
   },
   {
    "layer": [
     {"data": {"name": "brackets"}, "transform": [{"filter": "datum.panel == 'f'"}], "mark": {"type": "rule", "color": "#666666"}, "encoding": {"x": {"field": "x1", "type": "quantitative", "scale": {"domain": [0, 4], "nice": false, "zero": false}, "axis": null}, "x2": {"field": "x2"}, "y": {"field": "y", "type": "quantitative"}}},
     {"data": {"name": "brackets"}, "transform": [{"filter": "datum.panel == 'f'"}], "mark": {"type": "rule", "color": "#666666"}, "encoding": {"x": {"field": "x1", "type": "quantitative", "scale": {"domain": [0, 4], "nice": false, "zero": false}, "axis": null}, "y": {"field": "y", "type": "quantitative"}, "y2": {"field": "y0"}}},
     {"data": {"name": "brackets"}, "transform": [{"filter": "datum.panel == 'f'"}], "mark": {"type": "rule", "color": "#666666"}, "encoding": {"x": {"field": "x2", "type": "quantitative", "scale": {"domain": [0, 4], "nice": false, "zero": false}, "axis": null}, "y": {"field": "y", "type": "quantitative"}, "y2": {"field": "y0"}}},
     {"data": {"name": "brackets"}, "transform": [{"filter": "datum.panel == 'f'"}], "mark": {"type": "text", "baseline": "middle", "dy": -3, "font": "DejaVu Sans", "fontSize": 15, "color": "#555555"}, "encoding": {"x": {"field": "xm", "type": "quantitative", "scale": {"domain": [0, 4], "nice": false, "zero": false}, "axis": null}, "y": {"field": "y", "type": "quantitative"}, "text": {"value": "*"}}},
     {"data": {"name": "notes"}, "transform": [{"filter": "datum.panel == 'f' && isValid(datum.pre)"}], "mark": {"type": "text", "align": "left", "baseline": "middle", "font": "DejaVu Sans", "fontSize": 10.5, "color": "#555555"}, "encoding": {"x": {"field": "x", "type": "quantitative", "scale": {"domain": [0, 4], "nice": false, "zero": false}, "axis": null}, "y": {"field": "y", "type": "quantitative"}, "text": {"field": "pre"}}},
     {"data": {"name": "notes"}, "transform": [{"filter": "datum.panel == 'f' && isValid(datum.pre)"}], "mark": {"type": "text", "align": "left", "baseline": "middle", "fontSize": 11, "fontStyle": "italic", "dx": 15, "color": "#555555"}, "encoding": {"x": {"field": "x", "type": "quantitative", "scale": {"domain": [0, 4], "nice": false, "zero": false}, "axis": null}, "y": {"field": "y", "type": "quantitative"}, "text": {"value": "p"}}},
     {"data": {"name": "notes"}, "transform": [{"filter": "datum.panel == 'f' && isValid(datum.pre)"}], "mark": {"type": "text", "align": "left", "baseline": "middle", "fontSize": 11, "dx": 25.5, "color": "#555555"}, "encoding": {"x": {"field": "x", "type": "quantitative", "scale": {"domain": [0, 4], "nice": false, "zero": false}, "axis": null}, "y": {"field": "y", "type": "quantitative"}, "text": {"value": "< 0.05"}}},
     {"data": {"name": "notes"}, "transform": [{"filter": "datum.panel == 'f' && datum.vs"}], "mark": {"type": "text", "align": "left", "baseline": "middle", "fontSize": 11, "fontStyle": "italic", "dx": 61.5, "color": "#555555"}, "encoding": {"x": {"field": "x", "type": "quantitative", "scale": {"domain": [0, 4], "nice": false, "zero": false}, "axis": null}, "y": {"field": "y", "type": "quantitative"}, "text": {"value": "vs."}}},
     {"data": {"name": "notes"}, "transform": [{"filter": "datum.panel == 'f' && isValid(datum.full)"}], "mark": {"type": "text", "align": "left", "baseline": "middle", "fontSize": 11, "fontStyle": "italic", "color": "#555555"}, "encoding": {"x": {"field": "x", "type": "quantitative", "scale": {"domain": [0, 4], "nice": false, "zero": false}, "axis": null}, "y": {"field": "y", "type": "quantitative"}, "text": {"field": "full"}}},
     {"data": {"name": "letters"}, "transform": [{"filter": "datum.panel == 'f'"}], "mark": {"type": "text", "align": "left", "baseline": "alphabetic", "dy": 13, "fontSize": 12, "fontWeight": "bold", "color": "#111111"}, "encoding": {"x": {"datum": -0.8, "type": "quantitative", "scale": {"domain": [0, 4], "nice": false, "zero": false}, "axis": null}, "y": {"datum": 0, "type": "quantitative"}, "text": {"field": "panel"}}}
    ]
   }
  ]
 },
 {
  "width": 271, "height": 205.3,
  "resolve": {"scale": {"x": "independent"}},
  "layer": [
   {
    "data": {"name": "bars"},
    "transform": [{"filter": "datum.panel == 'g'"}],
    "encoding": {
     "x": {"field": "group", "type": "nominal", "title": null, "scale": {"domain": ["Control", "WGP", "LPS", "WGP + LPS"], "paddingInner": 0, "paddingOuter": 0}},
     "xOffset": {"field": "geno", "type": "nominal", "scale": {"domain": ["WT", "FcgRIIb–/–"], "paddingInner": 0, "paddingOuter": 0.8}},
     "y": {"field": "value", "type": "quantitative", "title": "Sky (relative to β-actin)", "scale": {"domain": [0, 2.688], "range": [205.3, 24.3], "nice": false}, "axis": {"values": [0, 0.5, 1, 1.5, 2, 2.5], "tickCount": 30, "labelOverlap": false, "labelExpr": "datum.value == 0 ? '0' : format(datum.value, '.1f')", "minExtent": 22, "maxExtent": 22, "titlePadding": 7}}
    },
    "layer": [
     {"transform": [{"filter": "isValid(datum.upper)"}], "mark": {"type": "rule", "color": "#777777"}, "encoding": {"y2": {"field": "upper"}}},
     {"mark": {"type": "bar", "stroke": "#333333", "strokeWidth": 1.1}, "encoding": {"fill": {"field": "geno", "type": "nominal", "title": null, "scale": {"domain": ["WT", "FcgRIIb–/–"], "range": ["#ffffff", "#505050"]}, "legend": {"legendX": 17.3, "legendY": 31}}}},
     {"transform": [{"filter": "isValid(datum.upper)"}], "mark": {"type": "tick", "orient": "horizontal", "color": "#777777", "size": 12, "thickness": 1}, "encoding": {"y": {"field": "upper", "type": "quantitative"}}},
     {"transform": [{"filter": "isValid(datum.upper)"}], "mark": {"type": "text", "baseline": "middle", "dy": -8, "font": "Open Sans", "fontSize": 11, "color": "#555555"}, "encoding": {"y": {"field": "upper", "type": "quantitative"}, "text": {"field": "sig"}}}
    ]
   },
   {
    "layer": [
     {"data": {"name": "brackets"}, "transform": [{"filter": "datum.panel == 'g'"}], "mark": {"type": "rule", "color": "#666666"}, "encoding": {"x": {"field": "x1", "type": "quantitative", "scale": {"domain": [0, 4], "nice": false, "zero": false}, "axis": null}, "x2": {"field": "x2"}, "y": {"field": "y", "type": "quantitative"}}},
     {"data": {"name": "brackets"}, "transform": [{"filter": "datum.panel == 'g'"}], "mark": {"type": "rule", "color": "#666666"}, "encoding": {"x": {"field": "x1", "type": "quantitative", "scale": {"domain": [0, 4], "nice": false, "zero": false}, "axis": null}, "y": {"field": "y", "type": "quantitative"}, "y2": {"field": "y0"}}},
     {"data": {"name": "brackets"}, "transform": [{"filter": "datum.panel == 'g'"}], "mark": {"type": "rule", "color": "#666666"}, "encoding": {"x": {"field": "x2", "type": "quantitative", "scale": {"domain": [0, 4], "nice": false, "zero": false}, "axis": null}, "y": {"field": "y", "type": "quantitative"}, "y2": {"field": "y0"}}},
     {"data": {"name": "brackets"}, "transform": [{"filter": "datum.panel == 'g'"}], "mark": {"type": "text", "baseline": "middle", "dy": -3, "font": "DejaVu Sans", "fontSize": 15, "color": "#555555"}, "encoding": {"x": {"field": "xm", "type": "quantitative", "scale": {"domain": [0, 4], "nice": false, "zero": false}, "axis": null}, "y": {"field": "y", "type": "quantitative"}, "text": {"value": "*"}}},
     {"data": {"name": "notes"}, "transform": [{"filter": "datum.panel == 'g' && isValid(datum.pre)"}], "mark": {"type": "text", "align": "left", "baseline": "middle", "font": "DejaVu Sans", "fontSize": 10.5, "color": "#555555"}, "encoding": {"x": {"field": "x", "type": "quantitative", "scale": {"domain": [0, 4], "nice": false, "zero": false}, "axis": null}, "y": {"field": "y", "type": "quantitative"}, "text": {"field": "pre"}}},
     {"data": {"name": "notes"}, "transform": [{"filter": "datum.panel == 'g' && isValid(datum.pre)"}], "mark": {"type": "text", "align": "left", "baseline": "middle", "fontSize": 11, "fontStyle": "italic", "dx": 15, "color": "#555555"}, "encoding": {"x": {"field": "x", "type": "quantitative", "scale": {"domain": [0, 4], "nice": false, "zero": false}, "axis": null}, "y": {"field": "y", "type": "quantitative"}, "text": {"value": "p"}}},
     {"data": {"name": "notes"}, "transform": [{"filter": "datum.panel == 'g' && isValid(datum.pre)"}], "mark": {"type": "text", "align": "left", "baseline": "middle", "fontSize": 11, "dx": 25.5, "color": "#555555"}, "encoding": {"x": {"field": "x", "type": "quantitative", "scale": {"domain": [0, 4], "nice": false, "zero": false}, "axis": null}, "y": {"field": "y", "type": "quantitative"}, "text": {"value": "< 0.05"}}},
     {"data": {"name": "notes"}, "transform": [{"filter": "datum.panel == 'g' && datum.vs"}], "mark": {"type": "text", "align": "left", "baseline": "middle", "fontSize": 11, "fontStyle": "italic", "dx": 61.5, "color": "#555555"}, "encoding": {"x": {"field": "x", "type": "quantitative", "scale": {"domain": [0, 4], "nice": false, "zero": false}, "axis": null}, "y": {"field": "y", "type": "quantitative"}, "text": {"value": "vs."}}},
     {"data": {"name": "notes"}, "transform": [{"filter": "datum.panel == 'g' && isValid(datum.full)"}], "mark": {"type": "text", "align": "left", "baseline": "middle", "fontSize": 11, "fontStyle": "italic", "color": "#555555"}, "encoding": {"x": {"field": "x", "type": "quantitative", "scale": {"domain": [0, 4], "nice": false, "zero": false}, "axis": null}, "y": {"field": "y", "type": "quantitative"}, "text": {"field": "full"}}},
     {"data": {"name": "letters"}, "transform": [{"filter": "datum.panel == 'g'"}], "mark": {"type": "text", "align": "left", "baseline": "alphabetic", "dy": 13, "fontSize": 12, "fontWeight": "bold", "color": "#111111"}, "encoding": {"x": {"datum": -0.587, "type": "quantitative", "scale": {"domain": [0, 4], "nice": false, "zero": false}, "axis": null}, "y": {"datum": 0, "type": "quantitative"}, "text": {"field": "panel"}}}
    ]
   }
  ]
 }
]
}
